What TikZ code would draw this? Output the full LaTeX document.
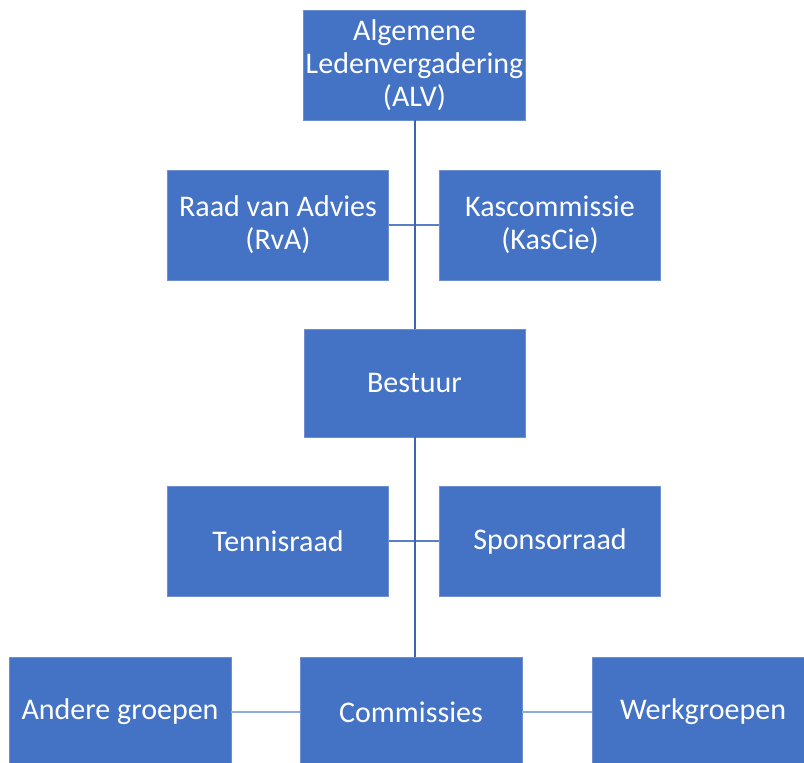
\documentclass[tikz,border=0pt]{standalone}
\usepackage{fontspec}
\setmainfont{Carlito}
\usepackage{xcolor}
\definecolor{blok}{HTML}{4472C4}
\definecolor{blokrand}{HTML}{6E90D0}
\definecolor{lijn}{HTML}{3B65B3}
\definecolor{middenlijn}{HTML}{5B7FC6}
\definecolor{lichtlijn}{HTML}{8FAADC}

\begin{document}
\begin{tikzpicture}[x=1pt,y=-1pt]
      \tikzstyle{orgblok}=[rectangle,fill=blok,draw=blokrand,line width=0.6pt,text=white,
        minimum width=221pt,minimum height=110pt,align=center,inner sep=2pt,
        font=\fontsize{30}{33}\selectfont]
      \tikzstyle{verbind}=[draw=lijn,line width=2pt]
      \tikzstyle{dwarslijn}=[draw=middenlijn,line width=1.5pt]
      \tikzstyle{zijlijn}=[draw=lichtlijn,line width=1.5pt]
      \useasboundingbox (0,0) rectangle (804,763);
      \clip (0,0) rectangle (804,763);
      \node[orgblok] (alv) at (414.5,65) {Algemene\\Ledenvergadering\\(ALV)};
      \node[orgblok] (rva) at (278,225) {Raad van Advies\\(RvA)};
      \node[orgblok] (kascie) at (550,225) {Kascommissie\\(KasCie)};
      \node[orgblok,minimum height=108pt] (bestuur) at (414.5,383) {Bestuur};
      \node[orgblok] (tennisraad) at (278,541) {Tennisraad};
      \node[orgblok] (sponsorraad) at (550,541) {Sponsorraad};
      \node[orgblok,minimum width=222pt] (commissies) at (411,712) {Commissies};
      \node[orgblok,minimum width=222pt] (andere) at (120,712) {Andere groepen};
      \node[orgblok,minimum width=222pt] (werkgroepen) at (703,712) {Werkgroepen};
      % lijnen
      \draw[dwarslijn] (rva.east) -- (kascie.west);
      \draw[dwarslijn] (tennisraad.east) -- (sponsorraad.west);
      \draw[verbind] (alv.south) -- (bestuur.north);
      \draw[verbind] (bestuur.south) -- (bestuur.south |- commissies.north);
      \draw[zijlijn] (andere.east) -- (commissies.west);
      \draw[zijlijn] (commissies.east) -- (werkgroepen.west);
\end{tikzpicture}
\end{document}
